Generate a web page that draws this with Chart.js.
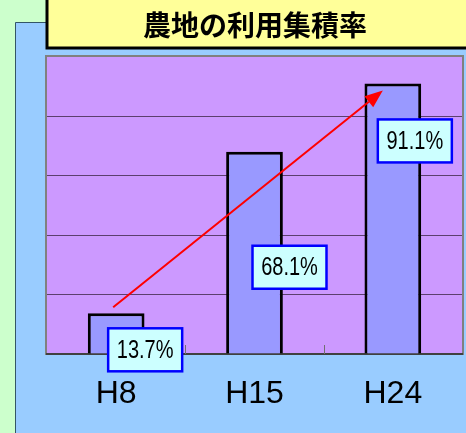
<!DOCTYPE html>
<html>
<head>
<meta charset="utf-8">
<script src="https://cdn.jsdelivr.net/npm/chart.js@4"></script>
<style>
  html, body { margin: 0; padding: 0; background: #CCFFCC; }
  #wrap { width: 466px; height: 433px; position: relative; }
</style>
</head>
<body>
<div id="wrap"><canvas id="chart" width="466" height="433"></canvas></div>
<script>
// Chart data
const categories = ['H8', 'H15', 'H24'];
const rates = [13.7, 68.1, 91.1];
const yMax = 100;
const yStep = 20;
const chartTitle = '農地の利用集積率';

// Label box offsets relative to each bar (center x, top y)
const labelBoxes = [
  { dx: -8, dy: 15 },
  { dx: -2, dy: 94 },
  { dx: -15, dy: 36 }
];

// Background panels, title box and plot frame
const backdrop = {
  id: 'backdrop',
  beforeDraw(chart) {
    const ctx = chart.ctx;
    const a = chart.chartArea;
    ctx.save();
    ctx.fillStyle = '#CCFFCC';
    ctx.fillRect(0, 0, chart.width, chart.height);
    // blue panel
    ctx.fillStyle = '#99CCFF';
    ctx.fillRect(15, 22, chart.width - 15, chart.height - 22);
    ctx.strokeStyle = '#335566';
    ctx.lineWidth = 1;
    ctx.beginPath();
    ctx.moveTo(15.5, chart.height);
    ctx.lineTo(15.5, 22.5);
    ctx.lineTo(chart.width, 22.5);
    ctx.stroke();
    // title box
    ctx.fillStyle = '#FFFF99';
    ctx.fillRect(47, -5, 430, 53);
    ctx.strokeStyle = '#000';
    ctx.lineWidth = 3;
    ctx.strokeRect(47, -5, 430, 53);
    ctx.fillStyle = '#000';
    ctx.font = 'bold 28px "Noto Sans CJK JP", sans-serif';
    ctx.textAlign = 'center';
    ctx.textBaseline = 'middle';
    ctx.fillText(chartTitle, 255, 25);
    // plot area
    ctx.fillStyle = '#CC99FF';
    ctx.fillRect(a.left, a.top, a.right - a.left, a.bottom - a.top);
    ctx.strokeStyle = '#808080';
    ctx.lineWidth = 2;
    ctx.strokeRect(a.left - 1, a.top - 1, a.right - a.left + 2, a.bottom - a.top + 1);
    ctx.restore();
  }
};

// Inner tick marks, arrow and value boxes
const overlay = {
  id: 'overlay',
  afterDatasetsDraw(chart) {
    const ctx = chart.ctx;
    const x = chart.scales.x;
    const a = chart.chartArea;
    const bars = chart.getDatasetMeta(0).data;
    ctx.save();

    // category boundary ticks
    ctx.strokeStyle = '#707070';
    ctx.lineWidth = 1;
    for (let i = 0; i < categories.length - 1; i++) {
      const bx = Math.round((x.getPixelForValue(i) + x.getPixelForValue(i + 1)) / 2) + 0.5;
      ctx.beginPath();
      ctx.moveTo(bx, a.bottom);
      ctx.lineTo(bx, a.bottom - 9);
      ctx.stroke();
    }

    // red arrow from first to last bar
    const first = bars[0];
    const last = bars[bars.length - 1];
    const x1 = first.x - 3, y1 = first.y - 6;
    const x2 = last.x - 10, y2 = last.y + 7;
    const ang = Math.atan2(y2 - y1, x2 - x1);
    const head = 18, half = 7;
    ctx.strokeStyle = '#FF0000';
    ctx.fillStyle = '#FF0000';
    ctx.lineWidth = 2;
    ctx.beginPath();
    ctx.moveTo(x1, y1);
    ctx.lineTo(x2 - Math.cos(ang) * head, y2 - Math.sin(ang) * head);
    ctx.stroke();
    const bxh = x2 - Math.cos(ang) * head, byh = y2 - Math.sin(ang) * head;
    ctx.beginPath();
    ctx.moveTo(x2, y2);
    ctx.lineTo(bxh + Math.sin(ang) * half, byh - Math.cos(ang) * half);
    ctx.lineTo(bxh - Math.sin(ang) * half, byh + Math.cos(ang) * half);
    ctx.closePath();
    ctx.fill();

    // value boxes
    bars.forEach((bar, i) => {
      const off = labelBoxes[i];
      const bx = bar.x + off.dx;
      const by = bar.y + off.dy;
      const w = 74, h = 43;
      ctx.fillStyle = '#CCFFFF';
      ctx.fillRect(bx, by, w, h);
      ctx.strokeStyle = '#0000FF';
      ctx.lineWidth = 2.5;
      ctx.strokeRect(bx, by, w, h);
      ctx.save();
      ctx.translate(bx + w / 2, by + h / 2 + 1);
      ctx.scale(0.8, 1);
      ctx.fillStyle = '#000';
      ctx.font = '25px "Liberation Sans", Arial, sans-serif';
      ctx.textAlign = 'center';
      ctx.textBaseline = 'middle';
      ctx.fillText(rates[i].toFixed(1) + '%', 0, 0);
      ctx.restore();
    });

    ctx.restore();
  }
};

const ctx = document.getElementById('chart');
new Chart(ctx, {
  type: 'bar',
  data: {
    labels: categories,
    datasets: [{
      data: rates,
      backgroundColor: '#9999FF',
      borderColor: '#000000',
      borderWidth: 3,
      borderSkipped: 'bottom',
      barPercentage: 0.41,
      categoryPercentage: 1
    }]
  },
  options: {
    responsive: false,
    animation: false,
    devicePixelRatio: 1,
    layout: { padding: { left: 47, top: 57, right: 4, bottom: 0 } },
    plugins: {
      legend: { display: false },
      tooltip: { enabled: false },
      title: { display: false }
    },
    scales: {
      x: {
        grid: { display: false },
        border: { display: true, color: '#404040', width: 2 },
        ticks: {
          color: '#000',
          padding: 13,
          font: { family: '"Liberation Sans", Arial, sans-serif', size: 32 }
        },
        afterFit(scale) { scale.height = 79; }
      },
      y: {
        min: 0,
        max: yMax,
        ticks: { display: false, stepSize: yStep },
        border: { display: false },
        grid: {
          drawTicks: false,
          lineWidth: 1,
          color: (c) => (c.tick && (c.tick.value === 0 || c.tick.value === yMax)) ? 'rgba(0,0,0,0)' : '#5C3F6E'
        },
        afterFit(scale) { scale.width = 0; }
      }
    }
  },
  plugins: [backdrop, overlay]
});
</script>
</body>
</html>
